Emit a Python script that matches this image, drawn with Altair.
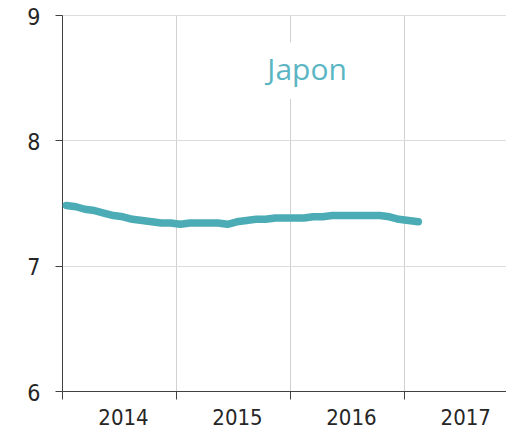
import altair as alt
import pandas as pd

# Monthly series (mid-month), Jan 2014 .. Feb 2017
months = pd.date_range("2014-01-01", periods=38, freq="MS") + pd.Timedelta(days=14)
values = [7.48, 7.47, 7.45, 7.44, 7.42, 7.40, 7.39, 7.37, 7.36, 7.35, 7.34, 7.34,
          7.33, 7.34, 7.34, 7.34, 7.34, 7.33, 7.35, 7.36, 7.37, 7.37, 7.38, 7.38,
          7.38, 7.38, 7.39, 7.39, 7.40, 7.40, 7.40, 7.40, 7.40, 7.40, 7.39, 7.37,
          7.36, 7.35]
year_ticks = ["2014-01-01", "2015-01-01", "2016-01-01", "2017-01-01"]
y_ticks = [6, 7, 8, 9]
label_text = ["Japon"]
label_date = ["2016-02-25"]
label_value = [8.55]
box_start = ["2015-09-15"]
box_end = ["2016-08-15"]
box_low = [8.33]
box_high = [8.78]

x_domain = ["2014-01-01", "2017-11-23"]
y_domain = [6, 9]

FONT = "Liberation Sans Narrow, Arial Narrow, DejaVu Sans Condensed, sans-serif"

df = pd.DataFrame({"date": months.strftime("%Y-%m-%d"), "value": values})
lab = pd.DataFrame({"date": label_date, "value": label_value, "text": label_text})
box = pd.DataFrame({"d1": box_start, "d2": box_end, "v1": box_low, "v2": box_high})

xscale = alt.Scale(domain=x_domain)
yscale = alt.Scale(domain=y_domain, nice=False, zero=False)

xaxis = alt.Axis(
    values=year_ticks, format="%Y", title=None, grid=True, gridColor="#d0d0d0",
    domainColor="#404040", tickColor="#404040", tickSize=8, labelOffset=61,
    labelPadding=8, labelFont=FONT, labelFontSize=22, labelColor="#262626",
    labelOverlap=False, labelFlush=False, labelBound=False,
)
yaxis = alt.Axis(
    values=y_ticks, format="d", title=None, grid=True, gridColor="#dcdcdc",
    domainColor="#404040", tickColor="#404040", tickSize=7, labelPadding=15,
    labelOffset=2, labelFont=FONT, labelFontSize=23, labelColor="#262626",
    labelFlush=False,
)

line = alt.Chart(df).mark_line(
    color="#4bacb6", strokeWidth=7.5, strokeCap="round", strokeJoin="round"
).encode(
    x=alt.X("date:T", scale=xscale, axis=xaxis),
    y=alt.Y("value:Q", scale=yscale, axis=yaxis),
)

bg = alt.Chart(box).mark_rect(color="white").encode(
    x=alt.X("d1:T", scale=xscale), x2="d2:T",
    y=alt.Y("v1:Q", scale=yscale), y2="v2:Q",
)

txt = alt.Chart(lab).mark_text(
    font="Open Sans", fontSize=30, color="#5bb6c4", baseline="middle", align="center"
).encode(
    x=alt.X("date:T", scale=xscale),
    y=alt.Y("value:Q", scale=yscale),
    text="text:N",
)

chart = alt.layer(bg, line, txt).properties(
    width=444, height=376,
    padding={"left": 54, "top": 7, "right": 0, "bottom": 44},
    autosize=alt.AutoSizeParams(type="none"),
).configure_view(stroke=None)

chart.save("out.html", embed_options={"renderer": "svg", "actions": False})
